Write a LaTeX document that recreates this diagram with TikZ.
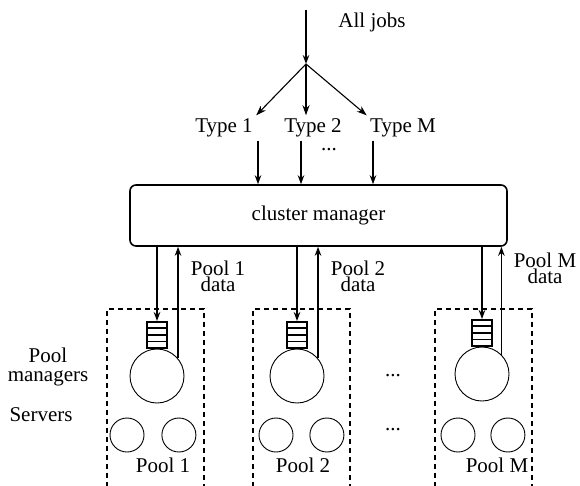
\documentclass[tikz,border=0pt]{standalone}
\usepackage{fontspec}
\setmainfont{Liberation Serif}
\usetikzlibrary{calc,positioning,arrows.meta}

\begin{document}
\begin{tikzpicture}[
            x=1pt,y=-1pt,
            every node/.append style={font=\fontsize{21}{19}\selectfont},
            flow/.style={-{Stealth[length=9pt,width=6.5pt]},line width=1.6pt},
            fan/.style={-{Stealth[length=10pt,width=7pt]},line width=1.1pt},
            poolbox/.style={draw,line width=1.5pt,dash pattern=on 5pt off 4pt,
                minimum width=97pt,minimum height=200pt,anchor=north west},
            queue/.style={draw,line width=1.5pt,minimum width=20pt,minimum height=26pt,inner sep=0pt},
            mgr/.style={circle,draw,line width=0.9pt,minimum size=54pt,inner sep=0pt},
            srv/.style={circle,draw,line width=0.9pt,minimum size=34pt,inner sep=0pt},
            datalbl/.style={align=center,font=\fontsize{21}{11}\selectfont}
        ]
            \clip (0,0) rectangle (580,485);
            % job types
            \coordinate (src) at (306,10);
            \coordinate (split) at (306,64);
            \node (all) at (372,22) {All jobs};
            \node (t1) at (224,128) {Type 1};
            \node (t2) at (313,128) {Type 2};
            \node (tM) at (403,128) {Type M};
            \node (tdots) at (329,150) {...};
            \node (cm) [draw,rounded corners=6pt,line width=1.6pt,minimum width=377pt,minimum height=61pt]
                at (318.5,215.5) {cluster manager};
            \draw[flow] (src) -- (split);
            \draw[fan] (split) -- (t1.north east);
            \draw[fan] (split) -- (split |- t2.north);
            \draw[fan] (split) -- (tM.north west);
            \coordinate (d1) at ([xshift=34pt]t1.south);
            \coordinate (d2) at ([xshift=-12pt]t2.south);
            \coordinate (dM) at ([xshift=-30pt]tM.south);
            \draw[flow] (d1) -- (d1 |- cm.north);
            \draw[flow] (d2) -- (d2 |- cm.north);
            \draw[flow] (dM) -- (dM |- cm.north);
            % pools
            \node (box1) [poolbox] at (106,308) {};
            \node (box2) [poolbox] at (252,308) {};
            \node (boxM) [poolbox] at (434,308) {};
            \node (pm1) [mgr] at (157,376) {};
            \node (pm2) [mgr] at (297,376) {};
            \node (pmM) [mgr] at (482,374) {};
            \node (q1) [queue,above=0pt of pm1] {};
            \node (q2) [queue,above=0pt of pm2] {};
            \node (qM) [queue,above=0pt of pmM] {};
            \foreach \q in {q1,q2,qM}
                \foreach \k in {1,2,3}
                    \draw[line width=1.5pt] ($(\q.north west)!\k/4!(\q.south west)$) -- ($(\q.north east)!\k/4!(\q.south east)$);
            \node (s1a) [srv] at (127,435) {};
            \node (s1b) [srv,right=17pt of s1a] {};
            \node (s2a) [srv] at (276,435) {};
            \node (s2b) [srv,right=16pt of s2a] {};
            \node (sMa) [srv] at (458,435) {};
            \node (sMb) [srv,right=15pt of sMa] {};
            \node (p1) at (163,465) {Pool 1};
            \node (p2) at (303,465) {Pool 2};
            \node (pM) at (497,465) {Pool M};
            % manager links
            \draw[flow] (cm.south -| q1.north) -- (q1.north);
            \draw[flow] (cm.south -| q2.north) -- (q2.north);
            \draw[flow] (cm.south -| qM.north) -- (qM.north);
            \draw[flow] (pm1.40) -- (pm1.40 |- cm.south);
            \draw[flow] (pm2.40) -- (pm2.40 |- cm.south);
            \draw[flow] (pmM.45) -- (pmM.45 |- cm.south);
            \node (data1) [datalbl] at (218,276) {Pool 1\\data};
            \node (data2) [datalbl] at (358,276) {Pool 2\\data};
            \node (dataM) [datalbl] at (545,268) {Pool M\\data};
            % row labels
            \node (lmgr) [align=center] at (48,367) {Pool\\managers};
            \node (lsrv) at (41,415) {Servers};
            \node (mdots) at (393,376) {...};
            \node (sdots) at (393,430) {...};
        \end{tikzpicture}
\end{document}
